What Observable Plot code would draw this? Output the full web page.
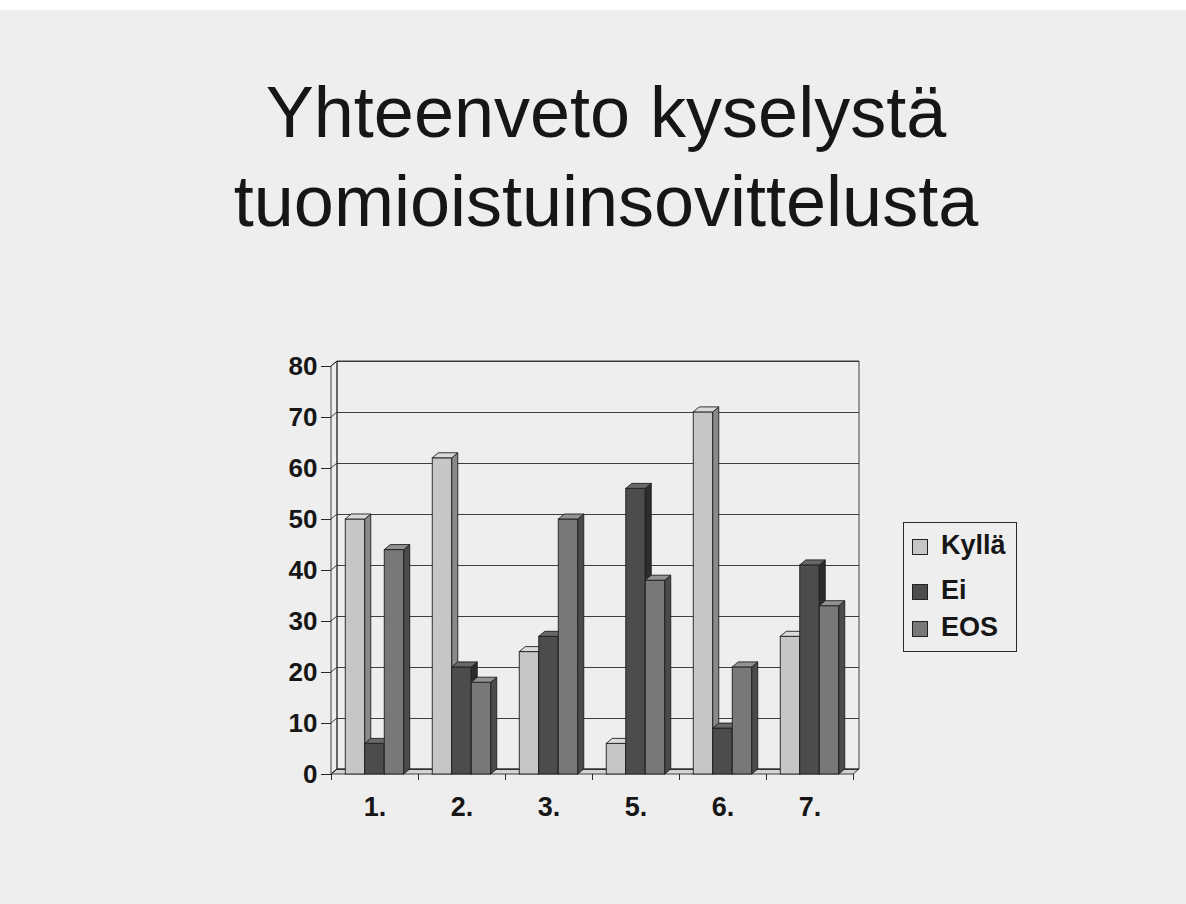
<!DOCTYPE html>
<html>
<head>
<meta charset="utf-8">
<script src="https://cdn.jsdelivr.net/npm/d3@7"></script>
<script src="https://cdn.jsdelivr.net/npm/@observablehq/plot@0.6"></script>
<style>
  html, body { margin: 0; padding: 0; }
  body { width: 1186px; height: 904px; background: #eeeeee; position: relative; overflow: hidden;
         font-family: "Liberation Sans", Arial, sans-serif; }
  #topstrip { position: absolute; left: 0; top: 0; width: 1186px; height: 10px; background: #ffffff; }
  #title { position: absolute; left: 106px; width: 1000px; top: 68px; text-align: center;
           font-size: 72px; line-height: 89px; color: #161616; font-weight: normal; }
  #chart { position: absolute; left: 0; top: 300px; }
  #legend { position: absolute; left: 903px; top: 522px; width: 114px; height: 130px;
            box-sizing: border-box; border: 1.5px solid #2a2a2a; }
  .item { position: absolute; left: 8px; height: 24px; font-size: 27px; font-weight: bold; color: #161616; }
  .sw { position: absolute; left: 0; top: 2px; width: 14px; height: 14px; border: 1px solid #222; }
  .lab { position: absolute; left: 29px; top: -7px; white-space: nowrap; }
</style>
</head>
<body>
<div id="topstrip"></div>
<div id="title">Yhteenveto kyselystä<br>tuomioistuinsovittelusta</div>
<div id="chart"></div>
<div id="legend"></div>
<script>
// ---- data ----
const categories = ["1.", "2.", "3.", "5.", "6.", "7."];
const seriesNames = ["Kyllä", "Ei", "EOS"];
const kylla = [50, 62, 24, 6, 71, 27];
const ei    = [6, 21, 27, 56, 9, 41];
const eos   = [44, 18, 50, 38, 21, 33];
const yTicks = [0, 10, 20, 30, 40, 50, 60, 70, 80];

// ---- styles ----
const frontColors = ["#c6c6c6", "#4c4c4c", "#787878"];
const sideColors  = ["#8a8a8a", "#2c2c2c", "#4a4a4a"];
const topColors   = ["#dadada", "#686868", "#929292"];
const DX = 6, DY = 5;           // 3D depth offset in pixels
const BAR_W = 19.5;
const STEP = 87;

const seriesValues = [kylla, ei, eos];
const rowsFor = (vals) => categories.map((c, i) => ({cat: c, value: vals[i]}));

const NS = "http://www.w3.org/2000/svg";
function poly(doc, pts, fill, stroke) {
  const p = doc.createElementNS(NS, "polygon");
  p.setAttribute("points", pts.map(d => d.join(",")).join(" "));
  p.setAttribute("fill", fill);
  p.setAttribute("stroke", stroke);
  p.setAttribute("stroke-width", "0.9");
  p.setAttribute("stroke-linejoin", "round");
  return p;
}

// extrude each bar rectangle into a 3D block (side + top faces)
function extrude(side, top) {
  return function(index, scales, values, dims, ctx, next) {
    const g = next(index, scales, values, dims, ctx);
    const doc = ctx.document;
    for (const r of Array.from(g.querySelectorAll("rect"))) {
      const x = +r.getAttribute("x"), y = +r.getAttribute("y");
      const w = +r.getAttribute("width"), h = +r.getAttribute("height");
      const s = poly(doc, [[x + w, y + h], [x + w, y], [x + w + DX, y - DY], [x + w + DX, y + h - DY]], side, "#1e1e1e");
      const t = poly(doc, [[x, y], [x + w, y], [x + w + DX, y - DY], [x + DX, y - DY]], top, "#1e1e1e");
      r.after(s, t);
    }
    return g;
  };
}

// walls, floor and left edge drawn from the plot's own dimensions and y scale
function walls(index, scales, values, dims, ctx) {
  const doc = ctx.document;
  const g = doc.createElementNS(NS, "g");
  const L = dims.marginLeft, R = dims.width - dims.marginRight;
  const T = dims.marginTop, B = dims.height - dims.marginBottom;
  g.appendChild(poly(doc, [[L, B], [R, B], [R + DX, B - DY], [L + DX, B - DY]], "#d4d4d4", "#2a2a2a"));
  g.appendChild(poly(doc, [[L, B], [L, T], [L + DX, T - DY], [L + DX, B - DY]], "none", "#2a2a2a"));
  g.appendChild(poly(doc, [[L + DX, B - DY], [L + DX, T - DY], [R + DX, T - DY], [R + DX, B - DY]], "none", "#2a2a2a"));
  for (const t of yTicks) {
    const yy = scales.y(t);
    const l = doc.createElementNS(NS, "line");
    l.setAttribute("x1", L); l.setAttribute("y1", yy);
    l.setAttribute("x2", L + DX); l.setAttribute("y2", yy - DY);
    l.setAttribute("stroke", "#2a2a2a"); l.setAttribute("stroke-width", "0.9");
    g.appendChild(l);
  }
  return g;
}

const insets = [
  {insetLeft: (STEP - 3 * BAR_W) / 2, insetRight: STEP - (STEP - 3 * BAR_W) / 2 - BAR_W},
  {insetLeft: (STEP - 3 * BAR_W) / 2 + BAR_W, insetRight: STEP - (STEP - 3 * BAR_W) / 2 - 2 * BAR_W},
  {insetLeft: (STEP - 3 * BAR_W) / 2 + 2 * BAR_W, insetRight: STEP - (STEP - 3 * BAR_W) / 2 - 3 * BAR_W}
];

const barMarks = seriesValues.map((vals, i) =>
  Plot.barY(rowsFor(vals), {
    x: "cat", y: "value",
    fill: frontColors[i], stroke: "#1e1e1e", strokeWidth: 0.9,
    ...insets[i],
    render: extrude(sideColors[i], topColors[i])
  })
);

const chart = Plot.plot({
  width: 1186,
  height: 560,
  marginLeft: 331,
  marginRight: 333,
  marginTop: 66,
  marginBottom: 86,
  style: {fontFamily: "'Liberation Sans', Arial, sans-serif", fontWeight: "bold", background: "transparent", color: "#161616", overflow: "visible"},
  x: {domain: categories, padding: 0, label: null},
  y: {domain: [0, 80], label: null},
  marks: [
    Plot.frame({render: walls}),
    Plot.gridY(yTicks, {dx: DX, dy: -DY, stroke: "#2a2a2a", strokeOpacity: 1, strokeWidth: 0.9}),
    ...barMarks,
    Plot.axisY({ticks: yTicks, tickSize: 10, tickPadding: 4, fontSize: 26, label: null, stroke: "#2a2a2a"}),
    Plot.axisX({tickSize: 0, tickPadding: 22, fontSize: 27, label: null}),
    Plot.axisX({tickSize: 6, tickFormat: () => "", dx: -STEP / 2, label: null, stroke: "#2a2a2a"}),
    Plot.axisX({ticks: [categories[categories.length - 1]], tickSize: 6, tickFormat: () => "", dx: STEP / 2, label: null, stroke: "#2a2a2a"})
  ]
});
document.getElementById("chart").appendChild(chart);

// legend
const legend = document.getElementById("legend");
const rowTops = [14, 59, 96];
seriesNames.forEach((name, i) => {
  const it = document.createElement("div");
  it.className = "item";
  it.style.top = rowTops[i] + "px";
  it.innerHTML = `<div class="sw" style="background:${frontColors[i]}"></div><div class="lab">${name}</div>`;
  legend.appendChild(it);
});
</script>
</body>
</html>
